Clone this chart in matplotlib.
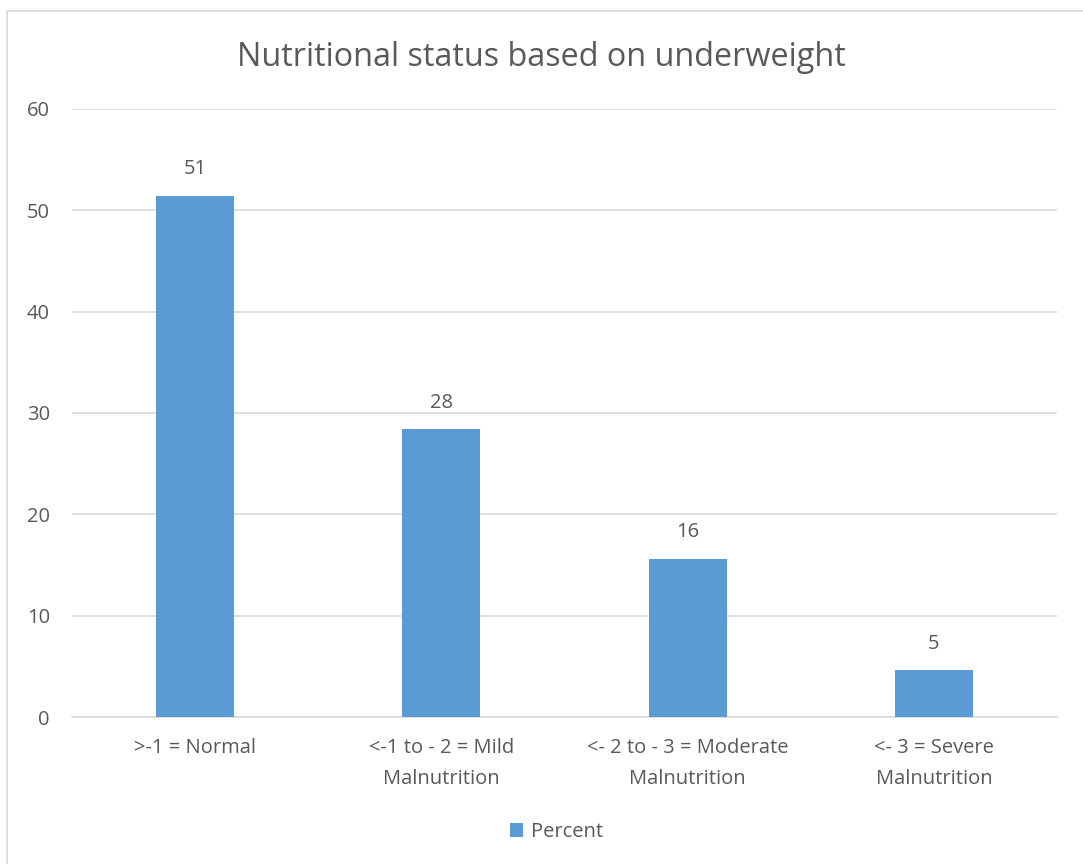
import matplotlib.pyplot as plt
from matplotlib.patches import Rectangle

# data
categories = [">-1 = Normal", "<-1 to - 2 = Mild\nMalnutrition",
              "<- 2 to - 3 = Moderate\nMalnutrition", "<- 3 = Severe\nMalnutrition"]
percent = [51.4, 28.4, 15.6, 4.6]
yticks = [0, 10, 20, 30, 40, 50, 60]

bar_color = "#5B9BD5"
text_color = "#595959"
grid_color = "#D9D9D9"

plt.rcParams['font.family'] = ['Open Sans', 'DejaVu Sans']

fig = plt.figure(figsize=(10.83, 8.64), dpi=100)
# outer chart border like the excel chart area
fig.patches.append(Rectangle((7 / 1083, -0.01), 1.0, 1 - 11 / 864 + 0.01,
                             transform=fig.transFigure, fill=False,
                             edgecolor=grid_color, lw=1.2))

ax = fig.add_axes([0.0665, 0.170, 0.9095, 0.704])
x = range(len(categories))
bars = ax.bar(x, percent, width=0.317, color=bar_color, label="Percent", zorder=3)

for rect, v in zip(bars, percent):
    ax.annotate("%d" % round(v), (rect.get_x() + rect.get_width() / 2, v),
                xytext=(0, 12), textcoords="offset points", ha="center", va="bottom",
                fontsize=14.5, color=text_color)

ax.set_xlim(-0.5, len(categories) - 0.5)
ax.set_ylim(0, 60)
ax.set_yticks(yticks)
ax.set_xticks(list(x))
ax.set_xticklabels(categories, fontsize=14.5, color=text_color, linespacing=1.75)
ax.tick_params(axis='y', labelsize=14.5, labelcolor=text_color, length=0, pad=16)
ax.tick_params(axis='x', length=0, pad=15)
ax.grid(axis='y', color=grid_color, lw=1.2, zorder=0)
for side in ['top', 'right', 'left']:
    ax.spines[side].set_visible(False)
ax.spines['bottom'].set_color(grid_color)
ax.spines['bottom'].set_linewidth(1.2)

fig.suptitle("Nutritional status based on underweight", y=0.952, fontsize=23.3,
             color=text_color)
fig.legend(handles=[bars], labels=["Percent"], loc="center", bbox_to_anchor=(0.514, 0.037),
           frameon=False, fontsize=14.5, labelcolor=text_color, handlelength=0.65,
           handleheight=0.65, handletextpad=0.4)

plt.savefig("out.png", dpi=100)
